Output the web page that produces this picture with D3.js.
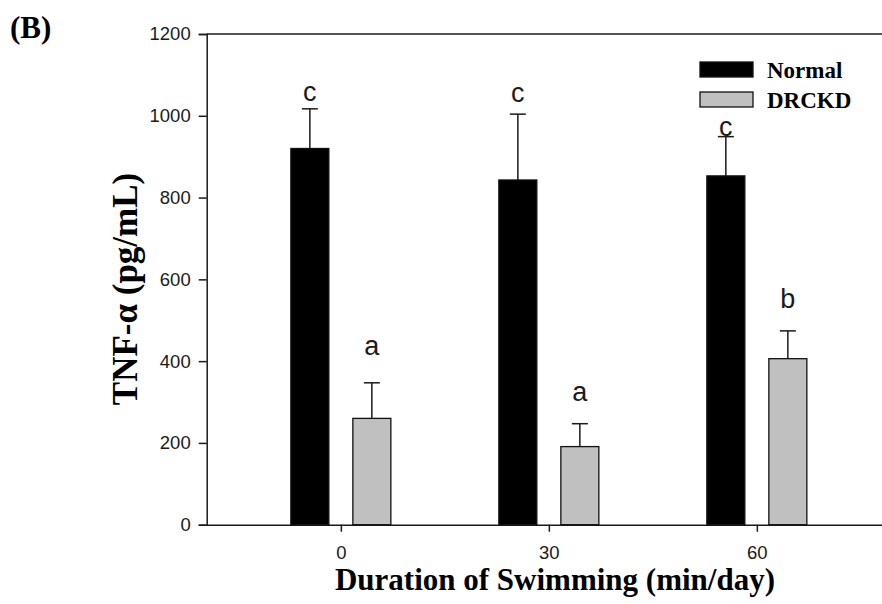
<!DOCTYPE html>
<html>
<head>
<meta charset="utf-8">
<script src="https://cdn.jsdelivr.net/npm/d3@7"></script>
<style>
  html, body { margin: 0; padding: 0; background: #fff; overflow: hidden; }
  svg { display: block; }
</style>
</head>
<body>
<svg id="chart" width="882" height="604"></svg>
<script>
// Swimming duration groups (min/day)
const categories = ["0", "30", "60"];
// TNF-α means and upper SEM for each group (pg/mL)
const normalMean = [920, 843, 853];
const normalErr  = [97, 161, 96];
const drckdMean  = [260, 191, 406];
const drckdErr   = [87, 56, 68];
// Significance letters and the value level where each sits
const normalLetters = ["c", "c", "c"];
const drckdLetters  = ["a", "a", "b"];
const normalLetterAt = [1035, 1034, 950];
const drckdLetterAt  = [415, 303, 530];
const yTicks = [0, 200, 400, 600, 800, 1000, 1200];
const seriesNames = ["Normal", "DRCKD"];

const svg = d3.select("#chart");
const plot = { left: 206.7, right: 891, top: 34, bottom: 524.7 };

const x = d3.scalePoint().domain(categories)
  .range([plot.left, plot.right]).padding(0.645);
const y = d3.scaleLinear().domain([0, 1200]).range([plot.bottom, plot.top]);

const barW = 38, offset = 31, capW = 16;
const axisColor = "#1a1a1a";
const sans = "Arial, 'Liberation Sans', sans-serif";
const serif = "'Times New Roman', 'Liberation Serif', serif";

// Top frame line
svg.append("line")
  .attr("x1", plot.left).attr("x2", plot.right)
  .attr("y1", y(1200)).attr("y2", y(1200))
  .attr("stroke", axisColor).attr("stroke-width", 1.5);

// Y axis
const yAxis = svg.append("g")
  .attr("transform", `translate(${plot.left},0)`)
  .call(d3.axisLeft(y).tickValues(yTicks).tickSize(8).tickPadding(8).tickFormat(d3.format("d")));
yAxis.select(".domain").attr("stroke", axisColor).attr("stroke-width", 1.5);
yAxis.selectAll(".tick line").attr("stroke", axisColor).attr("stroke-width", 1.5);
yAxis.selectAll(".tick text").attr("fill", axisColor)
  .style("font-family", sans).style("font-size", "18.5px");

// X axis
const xAxis = svg.append("g")
  .attr("transform", `translate(0,${plot.bottom})`)
  .call(d3.axisBottom(x).tickSize(7).tickPadding(14).tickSizeOuter(0));
xAxis.select(".domain").attr("stroke", axisColor).attr("stroke-width", 1.5);
xAxis.selectAll(".tick line").attr("stroke", axisColor).attr("stroke-width", 1.5);
xAxis.selectAll(".tick text").attr("fill", axisColor)
  .style("font-family", sans).style("font-size", "18.5px");

// Draws one series of bars with upper error bars and letters
function drawSeries(means, errs, letters, letterAt, dx, fill) {
  const g = svg.append("g");
  categories.forEach((c, i) => {
    const cx = x(c) + dx;
    const top = y(means[i] + errs[i]);
    g.append("line")
      .attr("x1", cx).attr("x2", cx)
      .attr("y1", y(means[i])).attr("y2", top)
      .attr("stroke", axisColor).attr("stroke-width", 1.5);
    g.append("line")
      .attr("x1", cx - capW / 2).attr("x2", cx + capW / 2)
      .attr("y1", top).attr("y2", top)
      .attr("stroke", axisColor).attr("stroke-width", 1.5);
    g.append("rect")
      .attr("x", cx - barW / 2).attr("width", barW)
      .attr("y", y(means[i])).attr("height", y(0) - y(means[i]))
      .attr("fill", fill).attr("stroke", "#111").attr("stroke-width", 1.3);
    g.append("text")
      .attr("x", cx).attr("y", y(letterAt[i]))
      .attr("text-anchor", "middle")
      .style("font-family", sans).style("font-size", "27px")
      .attr("fill", axisColor)
      .text(letters[i]);
  });
}
drawSeries(normalMean, normalErr, normalLetters, normalLetterAt, -offset, "#000");
drawSeries(drckdMean, drckdErr, drckdLetters, drckdLetterAt, offset, "#c0c0c0");

// Legend
const legend = svg.append("g").attr("transform", "translate(700,62)");
const legendFills = ["#000", "#c0c0c0"];
seriesNames.forEach((name, i) => {
  legend.append("rect")
    .attr("x", 0).attr("y", i * 30).attr("width", 53).attr("height", 15)
    .attr("fill", legendFills[i]).attr("stroke", "#111").attr("stroke-width", 1.3);
  legend.append("text")
    .attr("x", 67).attr("y", i * 30 + 15.5)
    .style("font-family", serif).style("font-weight", "bold").style("font-size", "23px")
    .attr("fill", "#000")
    .text(name);
});

// Axis titles
svg.append("text")
  .attr("x", 555).attr("y", 590)
  .attr("text-anchor", "middle")
  .style("font-family", serif).style("font-weight", "bold").style("font-size", "31px")
  .attr("fill", "#000")
  .text("Duration of Swimming (min/day)");

svg.append("text")
  .attr("transform", "translate(137,289) rotate(-90)")
  .attr("text-anchor", "middle")
  .style("font-family", serif).style("font-weight", "bold").style("font-size", "35px")
  .attr("fill", "#000")
  .text("TNF-α (pg/mL)");

// Panel label
svg.append("text")
  .attr("x", 10).attr("y", 38)
  .style("font-family", serif).style("font-weight", "bold").style("font-size", "31px")
  .attr("fill", "#000")
  .text("(B)");
</script>
</body>
</html>
